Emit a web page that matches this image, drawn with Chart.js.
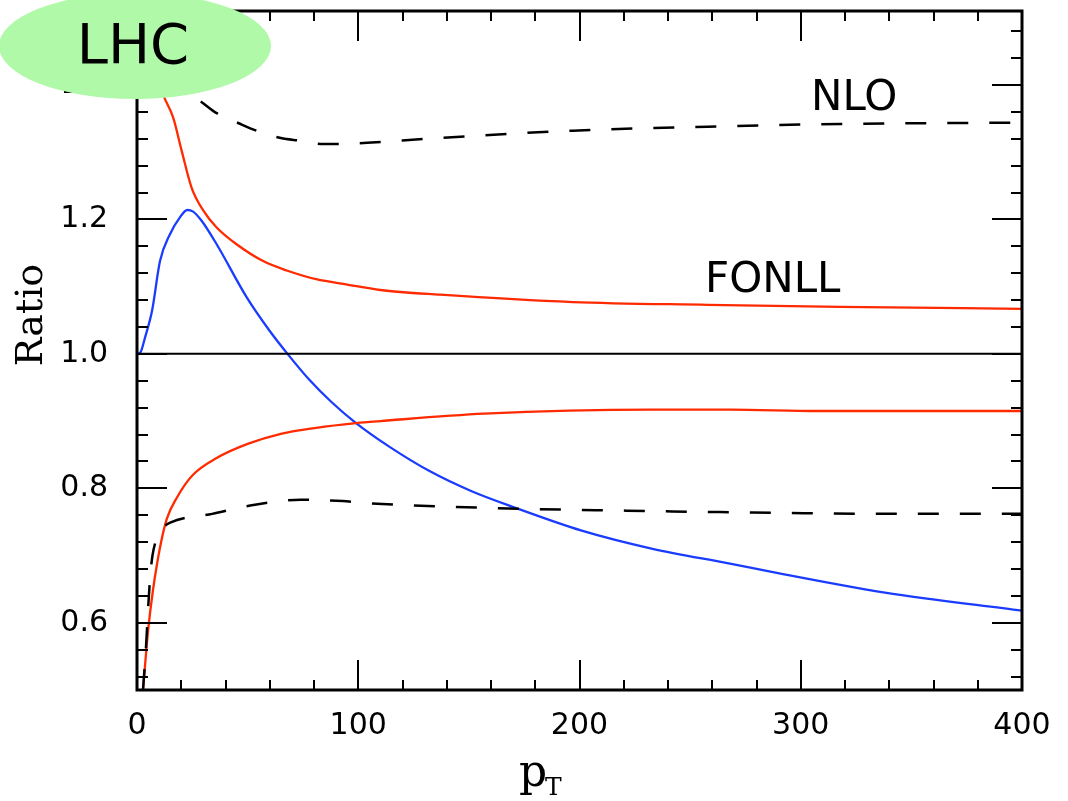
<!DOCTYPE html>
<html>
<head>
<meta charset="utf-8">
<script src="https://cdn.jsdelivr.net/npm/chart.js@4.4.1/dist/chart.umd.min.js"></script>
<style>
  html, body { margin: 0; padding: 0; background: #fff; }
</style>
</head>
<body>
<canvas id="ratioChart" width="1068" height="801"></canvas>
<script>
// NLO band (dashed)
const nloUpperX = [5, 10, 15, 20, 24, 28, 36, 46, 54, 65, 74, 84, 93, 104, 136, 197, 258, 318, 400];
const nloUpperY = [1.47, 1.44, 1.42, 1.40, 1.384, 1.377, 1.358, 1.343, 1.332, 1.321, 1.317, 1.312, 1.312, 1.314, 1.321, 1.332, 1.338, 1.342, 1.344];
const nloLowerX = [2.7, 4, 5, 6, 7, 9, 12, 15, 34, 54, 74, 93, 104, 157, 217, 278, 338, 400];
const nloLowerY = [0.50, 0.56, 0.62, 0.67, 0.70, 0.726, 0.742, 0.749, 0.762, 0.776, 0.783, 0.781, 0.778, 0.771, 0.767, 0.764, 0.762, 0.762];

// FONLL band (red)
const fonllUpperX = [4, 6, 9, 12, 16.4, 20.2, 24.7, 30, 36, 45, 57, 67.7, 81, 95, 110, 137, 197, 258, 318, 400];
const fonllUpperY = [1.50, 1.46, 1.415, 1.384, 1.351, 1.302, 1.247, 1.213, 1.188, 1.163, 1.138, 1.124, 1.111, 1.103, 1.095, 1.088, 1.077, 1.073, 1.070, 1.067];
const fonllLowerX = [2.7, 5, 7.2, 10.4, 13.5, 18, 25, 36, 50, 65, 81, 99, 110, 157, 233, 268, 308, 400];
const fonllLowerY = [0.499, 0.588, 0.648, 0.712, 0.755, 0.786, 0.819, 0.845, 0.866, 0.881, 0.890, 0.897, 0.900, 0.911, 0.917, 0.917, 0.915, 0.915];

// blue curve
const blueX = [0, 1.5, 3.6, 6.8, 10.4, 14.9, 19.4, 22.7, 25.2, 29.2, 36, 49.6, 60, 68.4, 78, 88, 99, 114, 132, 151, 171, 201, 233, 268, 288, 338, 400];
const blueY = [1.0, 1.002, 1.024, 1.064, 1.138, 1.178, 1.203, 1.214, 1.212, 1.198, 1.163, 1.084, 1.034, 0.9985, 0.961, 0.928, 0.897, 0.862, 0.826, 0.796, 0.771, 0.737, 0.710, 0.688, 0.675, 0.645, 0.618];

// reference line
const refX = [0, 400];
const refY = [1.0, 1.0];

const xTickValues = [0, 100, 200, 300, 400];
const xTickLabels = ['0', '100', '200', '300', '400'];
const yTickValues = [0.6, 0.8, 1.0, 1.2, 1.4];
const yTickLabels = ['0.6', '0.8', '1.0', '1.2', '1.4'];
const xMinorStep = 20;
const yMinorStep = 0.04;

const toPoints = (xs, ys) => xs.map((x, i) => ({ x: x, y: ys[i] }));

function lineSet(label, xs, ys, color, width, dash) {
  return {
    label: label,
    data: toPoints(xs, ys),
    borderColor: color,
    borderWidth: width,
    borderDash: dash || [],
    pointRadius: 0,
    fill: false,
    cubicInterpolationMode: 'monotone'
  };
}

// inward ticks, frame, labels and the LHC badge
const decorations = {
  id: 'decorations',
  afterDraw(chart) {
    const ctx = chart.ctx;
    const a = chart.chartArea;
    const xs = chart.scales.x;
    const ys = chart.scales.y;
    ctx.save();
    ctx.strokeStyle = '#000';
    ctx.lineWidth = 2;
    ctx.beginPath();
    for (let v = xs.min; v <= xs.max + 1e-9; v += xMinorStep) {
      const px = Math.round(xs.getPixelForValue(v));
      const len = xTickValues.includes(Math.round(v)) ? 30 : 10;
      ctx.moveTo(px, a.bottom); ctx.lineTo(px, a.bottom - len);
      ctx.moveTo(px, a.top); ctx.lineTo(px, a.top + len);
    }
    for (let k = 0; ; k++) {
      const v = 0.52 + k * yMinorStep;
      if (v > ys.max) break;
      const py = Math.round(ys.getPixelForValue(v));
      const major = yTickValues.some(t => Math.abs(t - v) < 1e-6);
      const len = major ? 30 : 11;
      ctx.moveTo(a.left, py); ctx.lineTo(a.left + len, py);
      ctx.moveTo(a.right, py); ctx.lineTo(a.right - len, py);
    }
    ctx.stroke();
    ctx.lineWidth = 3;
    ctx.strokeRect(a.left, a.top, a.right - a.left, a.bottom - a.top);

    // axis titles
    ctx.fillStyle = '#000';
    ctx.font = '44px "DejaVu Serif"';
    ctx.textAlign = 'left';
    ctx.textBaseline = 'alphabetic';
    ctx.fillText('p', 519, 786);
    ctx.font = '25px "DejaVu Serif"';
    ctx.fillText('T', 545, 795);
    ctx.save();
    ctx.translate(42, 315);
    ctx.rotate(-Math.PI / 2);
    ctx.font = '38px "DejaVu Serif"';
    ctx.textAlign = 'center';
    ctx.fillText('Ratio', 0, 0);
    ctx.restore();

    // curve labels
    ctx.font = '42px "DejaVu Sans"';
    ctx.fillText('NLO', 811, 110);
    ctx.fillText('FONLL', 705, 292);

    // LHC badge
    ctx.fillStyle = '#b0f9a8';
    ctx.beginPath();
    ctx.ellipse(135, 46, 136, 53, 0, 0, Math.PI * 2);
    ctx.fill();
    ctx.fillStyle = '#000';
    ctx.font = '56px "DejaVu Sans"';
    ctx.textAlign = 'center';
    ctx.fillText('LHC', 133, 63);
    ctx.restore();
  }
};

new Chart(document.getElementById('ratioChart'), {
  type: 'line',
  data: {
    datasets: [
      lineSet('ref', refX, refY, '#000', 2),
      lineSet('NLO upper', nloUpperX, nloUpperY, '#000', 2.5, [21, 21]),
      lineSet('NLO lower', nloLowerX, nloLowerY, '#000', 2.5, [21, 21]),
      lineSet('FONLL upper', fonllUpperX, fonllUpperY, '#ff2a00', 2.3),
      lineSet('FONLL lower', fonllLowerX, fonllLowerY, '#ff2a00', 2.3),
      lineSet('blue', blueX, blueY, '#1a3cff', 2.3)
    ]
  },
  options: {
    responsive: false,
    animation: false,
    devicePixelRatio: 1,
    layout: { padding: { top: 11, right: 46, bottom: 0, left: 0 } },
    plugins: { legend: { display: false }, tooltip: { enabled: false } },
    scales: {
      x: {
        type: 'linear',
        min: 0,
        max: 400,
        grid: { display: false, drawTicks: false },
        border: { display: false },
        afterBuildTicks: s => { s.ticks = xTickValues.map(v => ({ value: v })); },
        afterFit: s => { s.height = 111; s.paddingLeft = 0; s.paddingRight = 0; },
        ticks: {
          padding: 18,
          color: '#000',
          font: { family: 'DejaVu Sans', size: 30 },
          maxRotation: 0,
          callback: (v) => xTickLabels[xTickValues.indexOf(v)]
        }
      },
      y: {
        type: 'linear',
        min: 0.5,
        max: 1.51,
        grid: { display: false, drawTicks: false },
        border: { display: false },
        afterBuildTicks: s => { s.ticks = yTickValues.map(v => ({ value: v })); },
        afterFit: s => { s.width = 137; s.paddingTop = 0; s.paddingBottom = 0; },
        ticks: {
          padding: 29,
          color: '#000',
          font: { family: 'DejaVu Sans', size: 30 },
          callback: (v) => yTickLabels[yTickValues.findIndex(t => Math.abs(t - v) < 1e-6)]
        }
      }
    }
  },
  plugins: [decorations]
});
</script>
</body>
</html>
